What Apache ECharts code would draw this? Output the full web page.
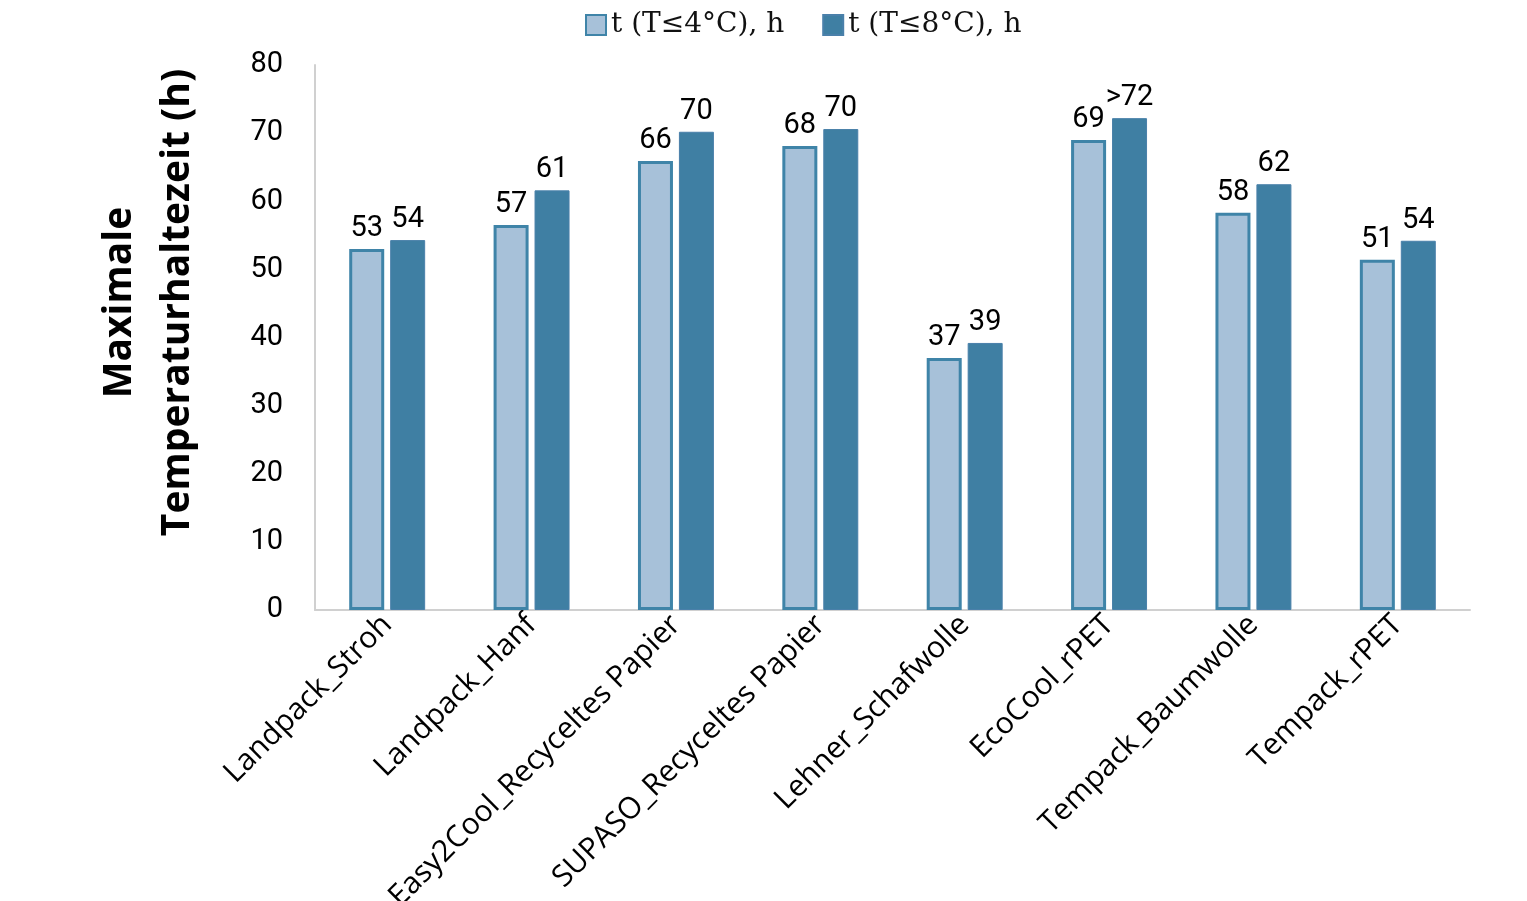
<!DOCTYPE html>
<html><head><meta charset="utf-8">
<script src="https://cdn.jsdelivr.net/npm/echarts@6/dist/echarts.min.js"></script>
<style>html,body{margin:0;padding:0;background:#fff}#c{width:1527px;height:901px}</style>
</head><body><div id="c"></div>
<script>
const categories = ['Landpack_Stroh','Landpack_Hanf','Easy2Cool_Recyceltes Papier','SUPASO_Recyceltes Papier','Lehner_Schafwolle','EcoCool_rPET','Tempack_Baumwolle','Tempack_rPET'];
const seriesNames = ['t (T≤4°C), h','t (T≤8°C), h'];
const t4 = [53.0, 56.5, 65.9, 68.1, 37.0, 69.0, 58.3, 51.4];
const t8 = [54.3, 61.6, 70.2, 70.6, 39.2, 72.2, 62.5, 54.2];
const t4Labels = ['53','57','66','68','37','69','58','51'];
const t8Labels = ['54','61','70','70','39','>72','62','54'];
const yTicks = [0,10,20,30,40,50,60,70,80];

const chart = echarts.init(document.getElementById('c'));
const labelStyle = {show:true, position:'top', distance:6, fontFamily:'Roboto', fontSize:29, color:'#000'};
chart.setOption({
  animation:false,
  legend:{top:6, left:580, icon:'rect', itemWidth:20, itemHeight:20, itemGap:38,
    textStyle:{fontFamily:'DejaVu Serif', fontSize:28, color:'#111'},
    data:seriesNames},
  grid:{left:315, right:57, top:65, bottom:291, containLabel:false, outerBoundsMode:'none'},
  xAxis:{type:'category', data:categories,
    axisLine:{lineStyle:{color:'#d0d0d0', width:2}}, axisTick:{show:false},
    axisLabel:{rotate:45, interval:0, fontFamily:'Open Sans', fontSize:30, color:'#000', margin:10, hideOverlap:false}},
  yAxis:{type:'value', min:yTicks[0], max:yTicks[yTicks.length-1], interval:10,
    name:'Maximale\nTemperaturhaltezeit (h)', nameLocation:'middle', nameGap:108, nameRotate:90,
    nameTextStyle:{fontFamily:'Open Sans', fontWeight:'bold', fontSize:39, color:'#000', lineHeight:58, padding:[0,0,0,70]},
    axisLine:{show:true, lineStyle:{color:'#d0d0d0', width:2}}, axisTick:{show:false}, splitLine:{show:false},
    axisLabel:{fontFamily:'Roboto', fontSize:29, color:'#000', margin:32}},
  series:[
    {name:seriesNames[0], type:'bar', data:t4, barWidth:35, barGap:'17%',
     itemStyle:{color:'#a7c1d9', borderColor:'#3f84a8', borderWidth:3},
     label:Object.assign({}, labelStyle, {formatter:p=>t4Labels[p.dataIndex]})},
    {name:seriesNames[1], type:'bar', data:t8, barWidth:35,
     itemStyle:{color:'#3f7fa3', borderColor:'#4a80aa', borderWidth:1},
     label:Object.assign({}, labelStyle, {formatter:p=>t8Labels[p.dataIndex]})}
  ]
});
</script></body></html>
